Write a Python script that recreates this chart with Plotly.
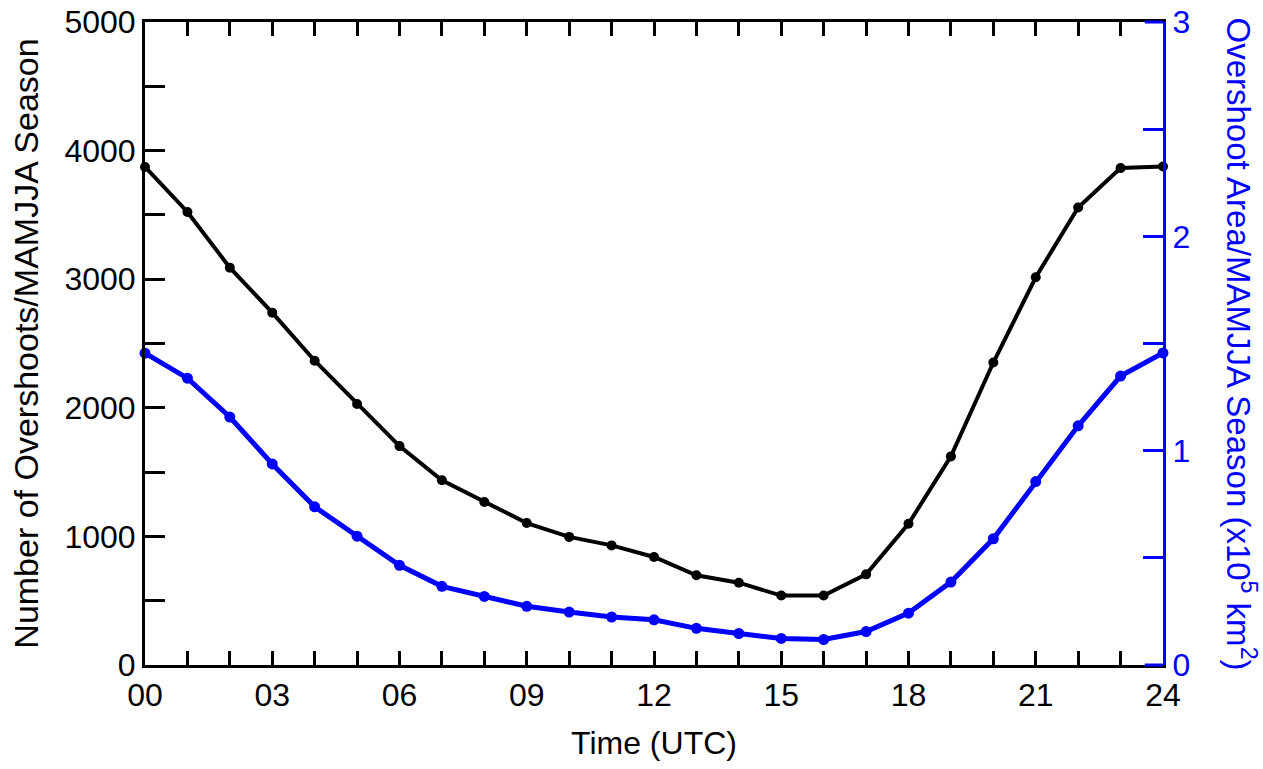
import plotly.graph_objects as go

hours = list(range(25))
overshoot_count = [3873, 3523, 3090, 2740, 2366, 2030, 1702, 1436, 1268, 1104,
                   996, 930, 840, 698, 640, 540, 540, 705, 1098, 1622,
                   2352, 3015, 3558, 3864, 3876]
overshoot_area = [1.455, 1.338, 1.157, 0.938, 0.738, 0.601, 0.465, 0.367, 0.320, 0.274,
                  0.247, 0.224, 0.211, 0.171, 0.147, 0.124, 0.119, 0.156, 0.242, 0.387,
                  0.589, 0.856, 1.116, 1.348, 1.456]
x_tickvals = [0, 3, 6, 9, 12, 15, 18, 21, 24]
x_ticktext = ["00", "03", "06", "09", "12", "15", "18", "21", "24"]

FONT = "Liberation Sans, Arial, Helvetica, sans-serif"
BLUE = "#0000ff"

fig = go.Figure()
fig.add_trace(go.Scatter(
    x=hours, y=overshoot_count, mode="lines+markers",
    line=dict(color="black", width=4), marker=dict(color="black", size=10),
    cliponaxis=False, showlegend=False))
fig.add_trace(go.Scatter(
    x=hours, y=overshoot_area, mode="lines+markers", yaxis="y2",
    line=dict(color=BLUE, width=5), marker=dict(color=BLUE, size=11),
    cliponaxis=False, showlegend=False))

fig.update_layout(
    width=1263, height=769,
    margin=dict(l=145, r=100, t=22, b=104),
    paper_bgcolor="white", plot_bgcolor="white",
    font=dict(family=FONT, size=32, color="black"),
    xaxis=dict(
        range=[0, 24], tickvals=x_tickvals, ticktext=x_ticktext,
        ticks="inside", ticklen=14, tickwidth=2.5, tickcolor="black",
        minor=dict(dtick=1, ticks="inside", ticklen=7, tickwidth=2.5, tickcolor="black"),
        showline=True, linecolor="black", linewidth=3, mirror="allticks",
        showgrid=False, zeroline=False, automargin=False,
        title=dict(text="Time (UTC)", standoff=20, font=dict(size=32)),
        tickfont=dict(size=32),
    ),
    yaxis=dict(
        range=[0, 5000], dtick=1000, tick0=0,
        ticks="inside", ticklen=20, tickwidth=2.5, tickcolor="black",
        minor=dict(dtick=500, ticks="inside", ticklen=20, tickwidth=2.5, tickcolor="black"),
        showline=True, linecolor="black", linewidth=3, mirror=False,
        showgrid=False, zeroline=False, automargin=False,
        title=dict(text="Number of Overshoots/MAMJJA Season", standoff=16, font=dict(size=34)),
        tickfont=dict(size=32),
    ),
    yaxis2=dict(
        range=[0, 3], dtick=1, tick0=0, overlaying="y", side="right",
        ticks="inside", ticklen=20, tickwidth=2.5, tickcolor=BLUE,
        minor=dict(dtick=0.5, ticks="inside", ticklen=20, tickwidth=2.5, tickcolor=BLUE),
        showline=True, linecolor=BLUE, linewidth=3,
        showgrid=False, zeroline=False, automargin=False,
        tickfont=dict(size=32, color=BLUE),
    ),
    annotations=[dict(
        text="Overshoot Area/MAMJJA Season (x10<sup>5</sup> km<sup>2</sup>)",
        xref="paper", yref="paper", x=1.0, y=0.5, xanchor="center", yanchor="middle",
        xshift=78, textangle=90, showarrow=False,
        font=dict(family=FONT, size=33, color=BLUE))],
    shapes=[
        dict(type="line", xref="x", yref="paper", x0=23.57, x1=24, y0=0, y1=0,
             line=dict(color=BLUE, width=3)),
        dict(type="line", xref="x", yref="paper", x0=23.57, x1=24, y0=1, y1=1,
             line=dict(color=BLUE, width=3)),
    ],
)

fig.write_html("out.html")
